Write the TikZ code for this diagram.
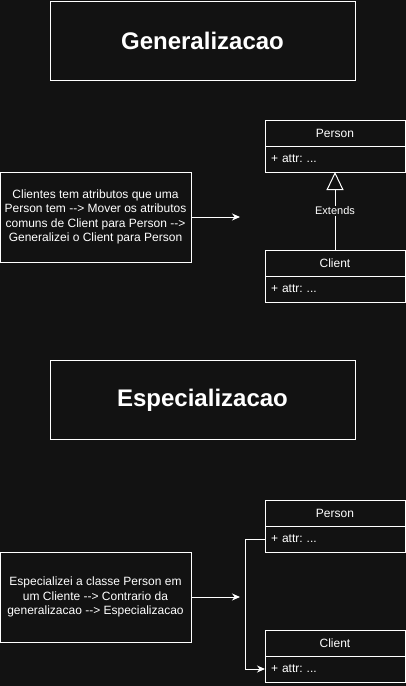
\documentclass[tikz,border=0pt]{standalone}
\usepackage{fontspec}
\setmainfont{Liberation Sans}
\usetikzlibrary{arrows.meta}
\usetikzlibrary{positioning,calc}
\definecolor{bg}{RGB}{18,18,18}
\newcommand{\darr}{-\kern0pt->}
\frenchspacing

\begin{document}
\begin{tikzpicture}[x=1pt,y=-1pt,
        every node/.style={text=white,font=\fontsize{12}{14.5}\selectfont},
        block/.style={draw=white,line width=1pt,rectangle,fill=bg,inner sep=0pt,outer sep=0pt,node distance=0pt,align=center},
        title/.style={block,minimum width=305,minimum height=79,font=\fontsize{24}{28}\selectfont\bfseries},
        head/.style={block,minimum width=140,minimum height=26},
        attr/.style={block,minimum width=140,minimum height=26,text width=128,align=left},
        note/.style={block,minimum width=191,minimum height=90},
        arr/.style={draw=white,line width=1pt,-{Stealth[length=8pt,width=7pt]}},
        ext/.style={draw=white,line width=1pt,-{Triangle[open,length=18pt,width=17pt]}}]
   \fill[bg] (0,0) rectangle (406,686);
   \useasboundingbox (0,0) rectangle (406,686);

   \node (gen) [title] at (202.5,40.5) {Generalizacao};
   \node (person) [head] at (335,133) {Person};
   \node (personattr) [attr,below=of person] {+ attr: ...};
   \node (client) [head,below=78pt of personattr] {Client};
   \node (clientattr) [attr,below=of client] {+ attr: ...};
   \node (gentext) [note] at (95.5,217) {Clientes tem atributos que uma\\Person tem \darr{} Mover os atributos\\comuns de Client para Person \darr\\Generalizei o Client para Person};
   \coordinate (genend) at (240,217);
   \draw[arr] (gentext) -- (genend);
   \draw[ext] (client) -- node[fill=bg,inner sep=1pt,font=\fontsize{11}{13}\selectfont] {Extends} (personattr);

   \node (spec) [title] at (202.5,400) {Especializacao};
   \node (person2) [head] at (335,513) {Person};
   \node (personattr2) [attr,below=of person2] {+ attr: ...};
   \node (client2) [head,below=78pt of personattr2] {Client};
   \node (clientattr2) [attr,below=of client2] {+ attr: ...};
   \node (spectext) [note] at (95.5,597) {Especializei a classe Person em\\um Cliente \darr{} Contrario da\\generalizacao \darr{} Especializacao};
   \coordinate (specend) at (240,597);
   \draw[arr] (spectext) -- (specend);
   \draw[arr] (personattr2.west) -- ++(-20,0) |- (clientattr2.west);
\end{tikzpicture}
\end{document}
